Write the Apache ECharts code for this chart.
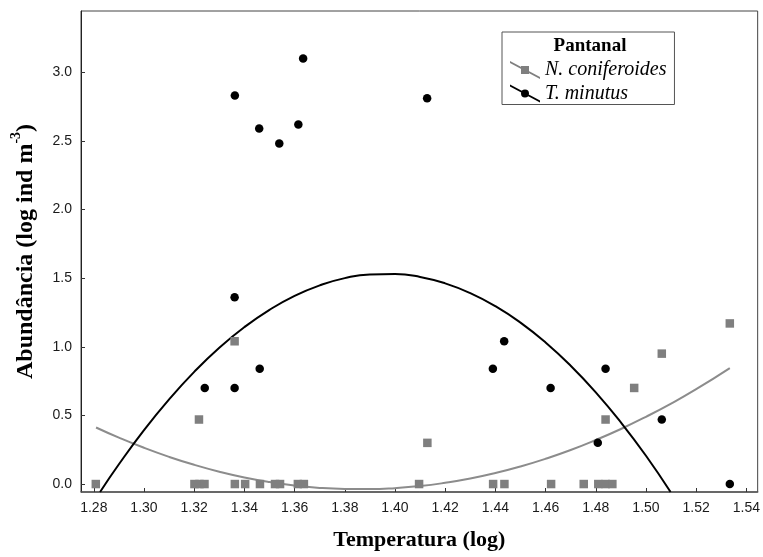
<!DOCTYPE html>
<html>
<head>
<meta charset="utf-8">
<script src="https://cdn.jsdelivr.net/npm/echarts@6/dist/echarts.min.js"></script>
<style>
  html, body { margin: 0; padding: 0; background: #fff; }
  #chart { width: 763px; height: 557px; }
</style>
</head>
<body>
<div id="chart"></div>
<script>
// Axis ticks
const xTicks = [1.28, 1.30, 1.32, 1.34, 1.36, 1.38, 1.40, 1.42, 1.44, 1.46, 1.48, 1.50, 1.52, 1.54];
const yTicks = [0, 0.5, 1.0, 1.5, 2.0, 2.5, 3.0];

// N. coniferoides: temperature (log) and abundance (log ind m-3)
const nConifTemp = [1.2808, 1.3201, 1.3221, 1.3241, 1.3362, 1.3403, 1.3462, 1.3522, 1.3542, 1.3613, 1.3637,
  1.4096, 1.4391, 1.4436, 1.4622, 1.4752, 1.4810, 1.4839, 1.4866,
  1.3219, 1.3361, 1.4129, 1.4839, 1.4953, 1.5063, 1.5334];
const nConifAbund = [0, 0, 0, 0, 0, 0, 0, 0, 0, 0, 0,
  0, 0, 0, 0, 0, 0, 0, 0,
  0.47, 1.04, 0.30, 0.47, 0.70, 0.95, 1.17];

// T. minutus
const tMinTemp = [1.3362, 1.3634, 1.3459, 1.3615, 1.3539, 1.4128, 1.3361, 1.3242, 1.3361, 1.3461,
  1.4390, 1.4435, 1.4620, 1.4808, 1.4839, 1.5063, 1.5334];
const tMinAbund = [2.83, 3.10, 2.59, 2.62, 2.48, 2.81, 1.36, 0.70, 0.70, 0.84,
  0.84, 1.04, 0.70, 0.30, 0.84, 0.47, 0.00];

// Quadratic fit curves
const nConifFitTemp = [1.2809, 1.29, 1.30, 1.31, 1.32, 1.33, 1.34, 1.35, 1.36, 1.37, 1.38, 1.39, 1.40,
  1.41, 1.42, 1.43, 1.44, 1.45, 1.46, 1.47, 1.48, 1.49, 1.50, 1.51, 1.52, 1.5334];
const nConifFitAbund = [0.412, 0.338, 0.264, 0.198, 0.140, 0.090, 0.048, 0.015, -0.010, -0.028, -0.036, -0.037, -0.030,
  -0.015, 0.009, 0.040, 0.080, 0.128, 0.184, 0.248, 0.321, 0.401, 0.490, 0.586, 0.691, 0.845];

const tMinFitTemp = [1.2825, 1.29, 1.30, 1.31, 1.32, 1.33, 1.34, 1.35, 1.36, 1.37, 1.38, 1.39, 1.40,
  1.41, 1.42, 1.43, 1.44, 1.45, 1.46, 1.47, 1.48, 1.49, 1.50, 1.5098];
const tMinFitAbund = [-0.058, 0.144, 0.393, 0.617, 0.817, 0.993, 1.143, 1.269, 1.371, 1.447, 1.500, 1.527, 1.530,
  1.509, 1.462, 1.391, 1.296, 1.176, 1.031, 0.862, 0.668, 0.449, 0.206, -0.058];

const pairs = (xs, ys) => xs.map((x, i) => [x, ys[i]]);

const GREY = '#7f7f7f';
const GREY_LINE = '#8c8c8c';
const serif = '"Liberation Serif", "Times New Roman", serif';
const sans = '"Liberation Sans", Arial, sans-serif';

// legend icons: diagonal line with the marker in the middle
const iconSquare = 'path://M0,0 L30,16 L30,18 L0,2 Z M11,5 L19,5 L19,13 L11,13 Z';
const iconCircle = 'path://M0,0 L30,16 L30,18 L0,2 Z M11,9 a4,4 0 1,1 8,0 a4,4 0 1,1 -8,0 Z';

const chart = echarts.init(document.getElementById('chart'), null, { renderer: 'canvas' });

chart.setOption({
  animation: false,
  backgroundColor: '#fff',
  grid: {
    left: 81, right: 5, top: 11, bottom: 65,
    show: true, borderColor: '#444', borderWidth: 1, backgroundColor: 'transparent'
  },
  xAxis: {
    type: 'value',
    min: 1.2749, max: 1.5445,
    name: 'Temperatura (log)',
    nameLocation: 'middle',
    nameGap: 37,
    nameTextStyle: { fontFamily: serif, fontWeight: 'bold', fontSize: 22, color: '#000' },
    axisLine: { show: true, onZero: false, lineStyle: { color: '#555', width: 1.5 } },
    axisTick: { show: true, inside: true, length: 4, lineStyle: { color: '#333' }, customValues: xTicks },
    axisLabel: {
      customValues: xTicks, margin: 9, fontFamily: sans, fontSize: 14, color: '#1a1a1a',
      formatter: v => v.toFixed(2)
    },
    splitLine: { show: false }
  },
  yAxis: {
    type: 'value',
    min: -0.058, max: 3.446,
    name: 'Abundância (log ind m{sup|-3})',
    nameLocation: 'middle',
    nameRotate: 90,
    nameGap: 38,
    nameTextStyle: {
      fontFamily: serif, fontWeight: 'bold', fontSize: 24, lineHeight: 32, color: '#000',
      rich: {
        sup: { fontFamily: serif, fontWeight: 'bold', fontSize: 14, verticalAlign: 'top', color: '#000' }
      }
    },
    axisLine: { show: true, onZero: false, lineStyle: { color: '#222', width: 1 } },
    axisTick: { show: true, inside: true, length: 4, lineStyle: { color: '#333' }, customValues: yTicks },
    axisLabel: {
      customValues: yTicks, margin: 9, fontFamily: sans, fontSize: 14, color: '#1a1a1a',
      formatter: v => v.toFixed(1)
    },
    splitLine: { show: false }
  },
  legend: {
    orient: 'vertical',
    left: 502, top: 32,
    padding: [28, 8, 1, 8],
    borderColor: '#555', borderWidth: 1,
    backgroundColor: '#fff',
    itemWidth: 30, itemHeight: 18, itemGap: 3.5,
    textStyle: { fontFamily: serif, fontStyle: 'italic', fontSize: 20, color: '#000' },
    data: [
      { name: 'N. coniferoides', icon: iconSquare, itemStyle: { color: GREY } },
      { name: 'T. minutus', icon: iconCircle, itemStyle: { color: '#000' } }
    ]
  },
  graphic: [{
    type: 'text',
    x: 590, y: 46,
    z: 100,
    style: {
      text: 'Pantanal',
      font: 'bold 19px ' + serif,
      fill: '#000',
      textAlign: 'center',
      textVerticalAlign: 'middle'
    }
  }],
  series: [
    {
      name: 'N. coniferoides',
      type: 'line',
      data: pairs(nConifFitTemp, nConifFitAbund),
      showSymbol: false,
      smooth: true,
      clip: true,
      lineStyle: { color: GREY_LINE, width: 2 },
      itemStyle: { color: GREY },
      z: 2
    },
    {
      name: 'T. minutus',
      type: 'line',
      data: pairs(tMinFitTemp, tMinFitAbund),
      showSymbol: false,
      smooth: true,
      clip: true,
      lineStyle: { color: '#000', width: 2 },
      itemStyle: { color: '#000' },
      z: 2
    },
    {
      name: 'N. coniferoides',
      type: 'scatter',
      data: pairs(nConifTemp, nConifAbund),
      symbol: 'rect',
      symbolSize: 8.5,
      itemStyle: { color: GREY, opacity: 1 },
      z: 3
    },
    {
      name: 'T. minutus',
      type: 'scatter',
      data: pairs(tMinTemp, tMinAbund),
      symbol: 'circle',
      symbolSize: 8.5,
      itemStyle: { color: '#000', opacity: 1 },
      z: 4
    }
  ]
});
</script>
</body>
</html>
